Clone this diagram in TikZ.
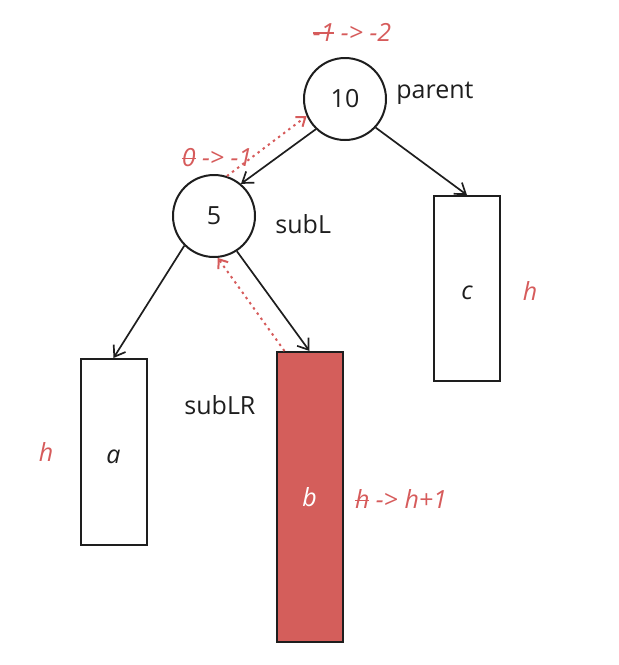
\documentclass[tikz,border=0pt]{standalone}
\usepackage{fontspec}
\setsansfont{Open Sans}
\usetikzlibrary{arrows.meta, positioning, calc}
\definecolor{FigInk}{HTML}{1E1E1E}
\definecolor{FigRed}{HTML}{D65B5B}
\definecolor{FigFill}{HTML}{D45E5B}
\newcommand{\crossout}[1]{\setbox0\hbox{#1}\rlap{\rule[0.3em]{\wd0}{0.6pt}}\box0\relax}
\newcommand{\lowered}[1]{\raisebox{-2.2pt}[\height][\depth]{#1}}

\begin{document}
\begin{tikzpicture}[
    x=0.5pt, y=-0.5pt,
    font=\sffamily\fontsize{12.5}{15}\selectfont,
    treenode/.style={
      circle,
      draw=FigInk,
      line width=1pt,
      minimum size=41pt,
      inner sep=0pt,
      text=FigInk,
    },
    subtree/.style={
      rectangle,
      draw=FigInk,
      line width=1pt,
      minimum width=33pt,
      inner sep=0pt,
      font=\sffamily\itshape\fontsize{12.5}{15}\selectfont,
    },
    link/.style={draw=FigInk, line width=0.85pt, -{Straight Barb[length=5pt,width=7pt]}},
    walk/.style={draw=FigRed, line width=1pt, dash pattern=on 1.2pt off 2pt, -{Straight Barb[length=4pt,width=6pt]}},
    note/.style={text=FigRed, font=\sffamily\itshape\fontsize{12.5}{15}\selectfont},
    tag/.style={text=FigInk, anchor=west, inner xsep=0pt},
  ]
  \useasboundingbox (0,0) rectangle (619,665);

  % tree nodes
  \node[treenode] (parentnode) at (345,99) {10};
  \node[treenode] (sublnode) at (214,216) {5};

  % subtrees
  \node[subtree, minimum height=93pt, text=FigInk] (boxa) at (113.5,452) {\lowered{a}};
  \node[subtree, minimum height=145pt, fill=FigFill, text=white] (boxb) at (309.5,497) {b};
  \node[subtree, minimum height=92.5pt, text=FigInk] (boxc) at (467,288.5) {\lowered{c}};

  % labels
  \node[tag] (parentlbl) at (396,93) {parent};
  \node[tag] (subllbl) at (275,224) {subL};
  \node[tag] (sublrlbl) at (184,405) {subLR};

  % balance and height notes
  \node[note] (rootbal) at (352,32) {\crossout{-1} -> -2};
  \node[note] (subbal) at (217,158) {\crossout{0} -> -1};
  \node[note] (bheight) at (401,499) {\crossout{h} -> h+1};
  \node[note] (aheight) at (46,452) {h};
  \node[note] (cheight) at (530,291) {h};

  % edges
  \draw[link] (parentnode.226) -- (sublnode.50);
  \draw[link] (parentnode.317) -- (boxc.north);
  \draw[link] (sublnode.225) -- (boxa.north);
  \draw[link] (sublnode.303) -- (boxb.north);

  % walk back up
  \draw[walk] ([xshift=4.5pt]boxb.north west) -- (sublnode.275);
  \draw[walk] (sublnode.72) -- (parentnode.204);
\end{tikzpicture}
\end{document}
